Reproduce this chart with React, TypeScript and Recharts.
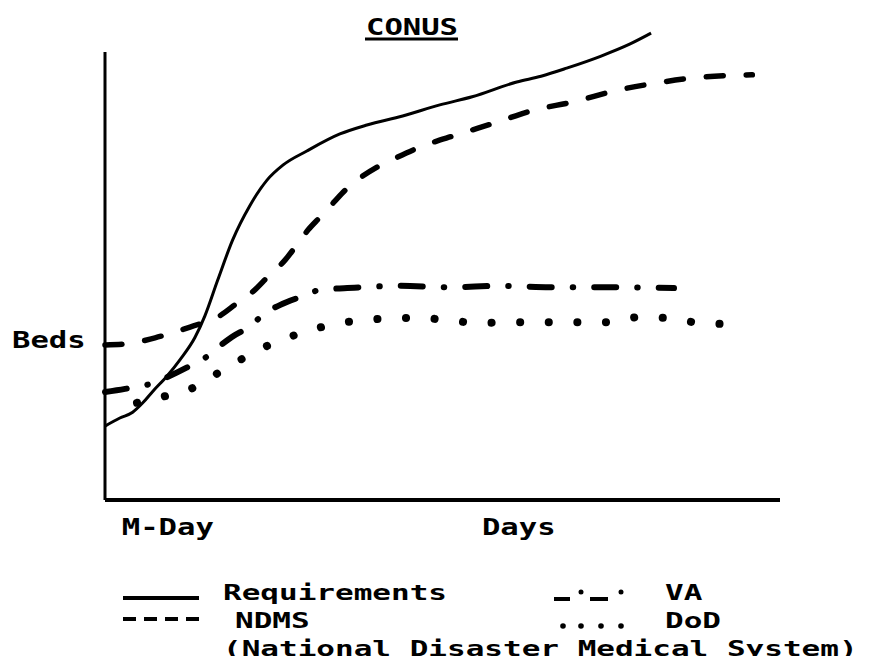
import React from "react";
import { LineChart, Line, XAxis, YAxis, ReferenceLine } from "recharts";

// Values in arbitrary units: day 0..100 along the x-axis, beds 0..100 up the y-axis
const requirements = [
  { day: 0, beds: 16.5 }, { day: 2.2, beds: 18.3 }, { day: 4.1, beds: 19.6 }, { day: 5.6, beds: 21.7 },
  { day: 7.1, beds: 24.3 }, { day: 9.2, beds: 27.7 }, { day: 11.1, beds: 31.3 }, { day: 13.3, beds: 36.2 },
  { day: 14.8, beds: 41.1 }, { day: 16.7, beds: 49.1 }, { day: 18.9, beds: 58.0 }, { day: 21.5, beds: 65.8 },
  { day: 24.0, beds: 71.4 }, { day: 26.4, beds: 74.8 }, { day: 29.9, beds: 77.9 }, { day: 34.8, beds: 81.7 },
  { day: 38.8, beds: 83.7 }, { day: 44.1, beds: 85.7 }, { day: 49.6, beds: 88.2 }, { day: 54.4, beds: 90.0 },
  { day: 61.0, beds: 93.3 }, { day: 64.6, beds: 94.6 }, { day: 68.4, beds: 96.4 }, { day: 73.5, beds: 99.1 },
  { day: 77.8, beds: 101.8 }, { day: 80.9, beds: 104.2 },
];

const ndms = [
  { day: 0, beds: 34.6 }, { day: 2.96, beds: 34.8 }, { day: 7.41, beds: 36.2 }, { day: 12.6, beds: 38.6 },
  { day: 17.0, beds: 41.1 }, { day: 19.6, beds: 44.0 }, { day: 22.2, beds: 46.9 }, { day: 24.1, beds: 49.8 },
  { day: 26.7, beds: 53.6 }, { day: 28.4, beds: 56.9 }, { day: 30.1, beds: 60.3 }, { day: 31.9, beds: 63.2 },
  { day: 33.8, beds: 66.3 }, { day: 35.9, beds: 69.6 }, { day: 37.8, beds: 71.9 }, { day: 40.3, beds: 74.3 },
  { day: 43.0, beds: 76.3 }, { day: 46.7, beds: 78.8 }, { day: 52.1, beds: 81.5 }, { day: 57.8, beds: 84.2 },
  { day: 63.7, beds: 87.1 }, { day: 69.2, beds: 88.8 }, { day: 76.0, beds: 91.5 }, { day: 81.8, beds: 93.1 },
  { day: 88.4, beds: 94.4 }, { day: 95.9, beds: 94.9 },
];

const va = [
  { day: 0, beds: 24.1 }, { day: 2.96, beds: 24.8 }, { day: 6.67, beds: 25.9 }, { day: 9.33, beds: 27.5 },
  { day: 12.3, beds: 29.7 }, { day: 14.8, beds: 31.7 }, { day: 16.6, beds: 33.9 }, { day: 18.8, beds: 36.4 },
  { day: 21.5, beds: 38.8 }, { day: 23.7, beds: 41.7 }, { day: 25.9, beds: 43.5 }, { day: 28.9, beds: 45.3 },
  { day: 31.9, beds: 46.9 }, { day: 35.9, beds: 47.3 }, { day: 43.7, beds: 47.8 }, { day: 51.1, beds: 47.5 },
  { day: 58.5, beds: 47.8 }, { day: 65.9, beds: 47.5 }, { day: 73.3, beds: 47.5 }, { day: 84.3, beds: 47.3 },
];

const dod = [
  { day: 4.74, beds: 21.7 }, { day: 8.44, beds: 23.0 }, { day: 13.3, beds: 25.2 }, { day: 16.7, beds: 28.3 },
  { day: 20.3, beds: 31.5 }, { day: 23.3, beds: 33.9 }, { day: 27.0, beds: 36.2 }, { day: 30.4, beds: 37.9 },
  { day: 34.8, beds: 39.5 }, { day: 39.0, beds: 40.2 }, { day: 43.1, beds: 40.6 }, { day: 46.8, beds: 40.6 },
  { day: 50.5, beds: 40.2 }, { day: 55.4, beds: 39.5 }, { day: 60.1, beds: 39.7 }, { day: 64.6, beds: 39.7 },
  { day: 69.0, beds: 39.7 }, { day: 74.1, beds: 39.7 }, { day: 79.0, beds: 40.8 }, { day: 83.7, beds: 40.6 },
  { day: 88.1, beds: 39.5 }, { day: 92.1, beds: 39.3 },
];

const xTickValues = [9.3, 61.3];
const xTickLabels = ["M-Day", "Days"];
const yTickValues = [35.9];
const yTickLabels = ["Beds"];

const title = "CONUS";
const legendRequirements = "Requirements";
const legendNdms = "NDMS";
const legendNdmsLong = "(National Disaster Medical System)";
const legendVa = "VA";
const legendDod = "DoD";

const FONT = "'DejaVu Sans Mono', 'Liberation Mono', monospace";
const axisText = { fontFamily: FONT, fontWeight: 700, fontSize: 23, fill: "#000" } as const;
const legendText = { fontFamily: FONT, fontWeight: 700, fontSize: 22, fill: "#000" } as const;
const AXIS_SX = 1.33;
const LEGEND_SX = 1.41;

const Stretch = ({ x, y, sx, style, anchor, children }: any) => (
  <text
    transform={`translate(${x},${y}) scale(${sx},1)`}
    x={0}
    y={0}
    textAnchor={anchor || "start"}
    style={style}
  >
    {children}
  </text>
);

const XTick = (props: any) => {
  const idx = xTickValues.indexOf(props.payload.value);
  return (
    <Stretch x={props.x} y={535} sx={AXIS_SX} style={axisText} anchor="middle">
      {xTickLabels[idx]}
    </Stretch>
  );
};

const YTick = (props: any) => {
  const idx = yTickValues.indexOf(props.payload.value);
  return (
    <Stretch x={12} y={props.y + 9} sx={AXIS_SX} style={axisText}>
      {yTickLabels[idx]}
    </Stretch>
  );
};

export default function App() {
  return (
    <div style={{ position: "relative", width: 855, height: 648 }}>
      <div style={{ position: "absolute", left: -8, top: -8, width: 871, height: 664, background: "#fff" }}>
        <LineChart
          width={871}
          height={664}
          margin={{ top: 29.6, right: 91, bottom: 124, left: 0 }}
        >
          <XAxis
            type="number"
            dataKey="day"
            domain={[0, 100]}
            ticks={xTickValues}
            tick={<XTick />}
            tickLine={false}
            axisLine={{ stroke: "#000", strokeWidth: 4 }}
            height={40}
            interval={0}
          />
          <YAxis
            type="number"
            domain={[0, 105]}
            ticks={yTickValues}
            tick={<YTick />}
            tickLine={false}
            axisLine={false}
            width={105}
            interval={0}
          />
          <ReferenceLine
            segment={[{ x: 0, y: 0 }, { x: 0, y: 100 }]}
            stroke="#000"
            strokeWidth={3}
            ifOverflow="visible"
          />
          <Line
            data={requirements}
            dataKey="beds"
            type="monotone"
            stroke="#000"
            strokeWidth={3}
            dot={false}
            activeDot={false}
            isAnimationActive={false}
          />
          <Line
            data={ndms}
            dataKey="beds"
            type="monotone"
            stroke="#000"
            strokeWidth={5.5}
            strokeDasharray="17 23"
            strokeLinecap="round"
            dot={false}
            activeDot={false}
            isAnimationActive={false}
          />
          <Line
            data={va}
            dataKey="beds"
            type="monotone"
            stroke="#000"
            strokeWidth={6}
            strokeDasharray="22 21 0.5 21"
            strokeLinecap="round"
            dot={false}
            activeDot={false}
            isAnimationActive={false}
          />
          <Line
            data={dod}
            dataKey="beds"
            type="monotone"
            stroke="#000"
            strokeWidth={8}
            strokeDasharray="0.1 28.5"
            strokeLinecap="round"
            dot={false}
            activeDot={false}
            isAnimationActive={false}
          />
        </LineChart>
        <svg
          width={871}
          height={664}
          style={{ position: "absolute", left: 0, top: 0, pointerEvents: "none" }}
        >
          <Stretch x={366} y={35} sx={AXIS_SX} style={axisText}>{title}</Stretch>
          <line x1={365} x2={458} y1={39} y2={39} stroke="#000" strokeWidth={3} />

          <line x1={123} x2={199} y1={598} y2={598} stroke="#000" strokeWidth={4} />
          <Stretch x={223} y={600} sx={LEGEND_SX} style={legendText}>{legendRequirements}</Stretch>

          <line x1={554} x2={570} y1={599} y2={599} stroke="#000" strokeWidth={4} />
          <circle cx={581} cy={592} r={2.5} fill="#000" />
          <line x1={590} x2={608} y1={599} y2={599} stroke="#000" strokeWidth={4} />
          <circle cx={621} cy={592} r={2.5} fill="#000" />
          <Stretch x={665} y={600} sx={LEGEND_SX} style={legendText}>{legendVa}</Stretch>

          <line x1={123} x2={199} y1={619} y2={619} stroke="#000" strokeWidth={4} strokeDasharray="13 8" />
          <Stretch x={235} y={628} sx={LEGEND_SX} style={legendText}>{legendNdms}</Stretch>

          <circle cx={563} cy={626} r={2.8} fill="#000" />
          <circle cx={581} cy={626} r={2.8} fill="#000" />
          <circle cx={601} cy={626} r={2.8} fill="#000" />
          <circle cx={621} cy={626} r={2.8} fill="#000" />
          <Stretch x={665} y={628} sx={LEGEND_SX} style={legendText}>{legendDod}</Stretch>

          <Stretch x={223} y={656} sx={LEGEND_SX} style={legendText}>{legendNdmsLong}</Stretch>
        </svg>
      </div>
    </div>
  );
}
